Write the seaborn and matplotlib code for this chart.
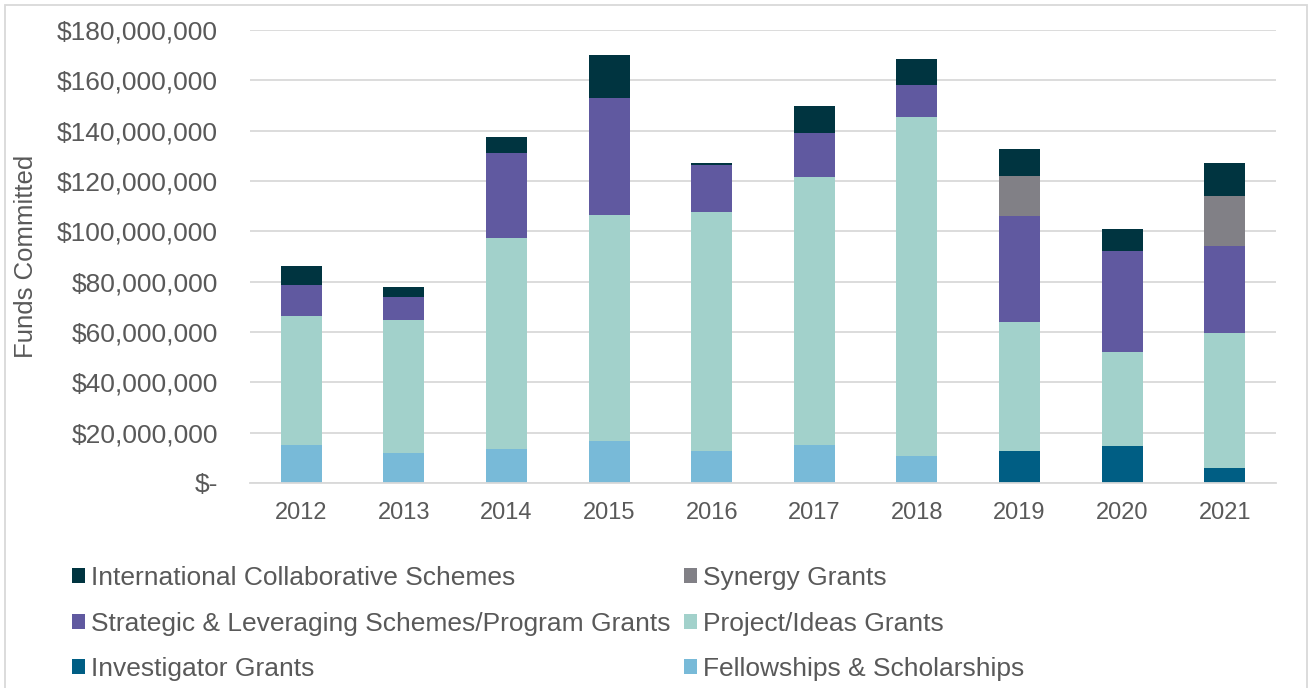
import numpy as np
import pandas as pd
import matplotlib
matplotlib.use('Agg')
import matplotlib.pyplot as plt
import seaborn as sns
from matplotlib.patches import Patch, Rectangle
from matplotlib.ticker import FuncFormatter, MultipleLocator

# Funds committed per scheme type, in millions of dollars
years = ['2012', '2013', '2014', '2015', '2016', '2017', '2018', '2019', '2020', '2021']
fellowships = [15.0, 11.8, 13.4, 16.6, 12.6, 15.1, 10.7, 0, 0, 0]
investigator = [0, 0, 0, 0, 0, 0, 0, 12.7, 14.7, 5.8]
project = [51.4, 53.0, 84.0, 89.7, 95.0, 106.3, 134.8, 51.2, 37.3, 54.0]
strategic = [12.1, 9.0, 33.9, 46.6, 18.8, 17.6, 12.6, 42.3, 40.1, 34.2]
synergy = [0, 0, 0, 0, 0, 0, 0, 15.6, 0, 20.1]
international = [7.8, 4.1, 6.0, 17.0, 0.6, 10.8, 10.5, 11.1, 8.9, 12.9]

# stacking order, bottom to top
series = [
    ('Fellowships & Scholarships', fellowships, '#78BAD8'),
    ('Investigator Grants', investigator, '#005E84'),
    ('Project/Ideas Grants', project, '#A2D1CB'),
    ('Strategic & Leveraging Schemes/Program Grants', strategic, '#6059A0'),
    ('Synergy Grants', synergy, '#818086'),
    ('International Collaborative Schemes', international, '#003440'),
]

TXT = '#595959'
GRID = '#D9D9D9'

sns.set_theme(style='white')
plt.rcParams['font.family'] = ['Liberation Sans', 'DejaVu Sans']
plt.rcParams['text.color'] = TXT

fig = plt.figure(figsize=(13.11, 6.88), dpi=100)
ax = fig.add_axes([250 / 1311, 1 - 483 / 688, 1026 / 1311, 453 / 688])

bottom = np.zeros(len(years))
colors = {}
for name, vals, col in series:
    vals = np.array(vals) * 1e6
    sns.barplot(x=years, y=vals, bottom=bottom, color=col, width=0.4,
                saturation=1, errorbar=None, ax=ax, linewidth=0)
    bottom = bottom + vals
    colors[name] = col

ax.set_ylim(0, 180e6)
ax.set_xlim(-0.5, len(years) - 0.5)
ax.yaxis.set_major_locator(MultipleLocator(20e6))
ax.yaxis.set_major_formatter(FuncFormatter(lambda v, p: '$-' if v == 0 else '${:,.0f}'.format(v)))
ax.grid(axis='y', color=GRID, linewidth=1.3)
ax.set_axisbelow(True)
for s in ['left', 'right', 'top']:
    ax.spines[s].set_visible(False)
ax.spines['bottom'].set_color(GRID)
ax.spines['bottom'].set_linewidth(1.3)
ax.tick_params(axis='y', length=0, pad=23, labelsize=19, labelcolor=TXT)
ax.tick_params(axis='x', length=0, pad=14, labelsize=17, labelcolor=TXT)
ax.set_xlabel('')
ax.set_ylabel('Funds Committed', fontsize=18.5, color=TXT)
ax.yaxis.set_label_coords(-212 / 1026, 0.5)

# legend, filled column by column so rows read as in the original
order = ['International Collaborative Schemes',
         'Strategic & Leveraging Schemes/Program Grants',
         'Investigator Grants',
         'Synergy Grants',
         'Project/Ideas Grants',
         'Fellowships & Scholarships']
handles = [Patch(facecolor=colors[n], edgecolor='none') for n in order]
fig.legend(handles, order, ncol=2, loc='upper left', bbox_to_anchor=(72 / 1311, 1 - 566 / 688),
           frameon=False, fontsize=19, handlelength=0.5, handleheight=0.5,
           handletextpad=0.23, columnspacing=0.5, labelspacing=0.82, borderpad=0,
           borderaxespad=0, labelcolor=TXT)

# chart area border
fig.patches.append(Rectangle((5 / 1311, -0.01), 1302 / 1311, 1 - 5 / 688 + 0.01,
                             transform=fig.transFigure, fill=False,
                             edgecolor=GRID, linewidth=1.3))

fig.savefig('out.png', dpi=100)
